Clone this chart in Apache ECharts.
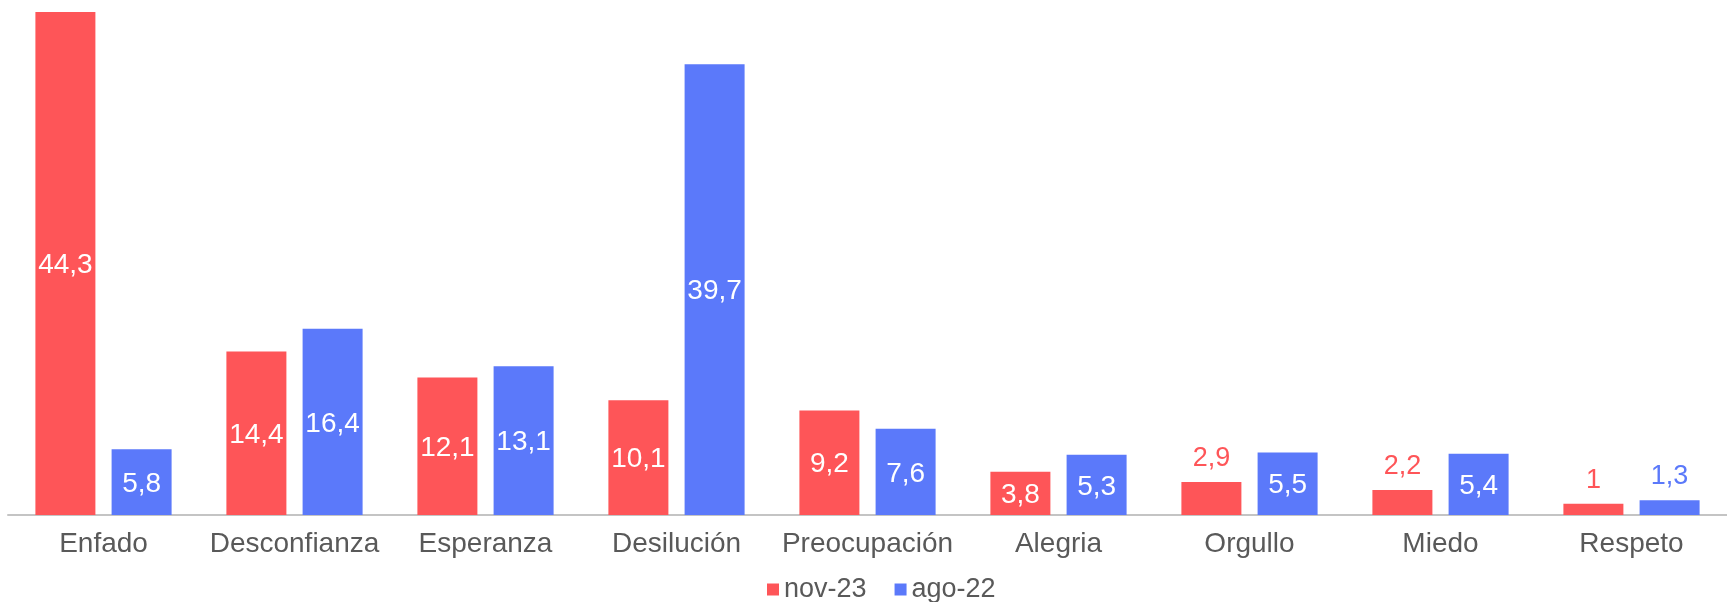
<!DOCTYPE html>
<html>
<head>
<meta charset="utf-8">
<script src="https://cdn.jsdelivr.net/npm/echarts@6/dist/echarts.min.js"></script>
<style>
html,body{margin:0;padding:0;background:#fff;}
#chart{width:1727px;height:602px;}
</style>
</head>
<body>
<div id="chart"></div>
<script>
const categories = ['Enfado','Desconfianza','Esperanza','Desilución','Preocupación','Alegria','Orgullo','Miedo','Respeto'];
const seriesNames = ['nov-23','ago-22'];
const nov23 = [44.3, 14.4, 12.1, 10.1, 9.2, 3.8, 2.9, 2.2, 1];
const ago22 = [5.8, 16.4, 13.1, 39.7, 7.6, 5.3, 5.5, 5.4, 1.3];

const RED = '#FE5558';
const BLUE = '#5B79FA';
const FONT = '"Liberation Sans", Arial, Helvetica, sans-serif';
const THRESH = 3.5;

function fmt(v){ return String(v).replace('.', ','); }
function buildData(arr, color){
  return arr.map(v => {
    const inside = v >= THRESH;
    return {
      value: v,
      label: inside
        ? {show:true, position:'inside', offset:[0,2], color:'#fff', fontSize:28, fontFamily:FONT, formatter: p => fmt(p.value)}
        : {show:true, position:'top', distance:10, color:color, fontSize:27, fontFamily:FONT, formatter: p => fmt(p.value)}
    };
  });
}

const chart = echarts.init(document.getElementById('chart'), null, {renderer:'canvas'});
chart.setOption({
  animation:false,
  backgroundColor:'#ffffff',
  textStyle:{fontFamily:FONT},
  grid:{left:8, right:0, top:12, bottom:87, containLabel:false},
  legend:{
    data:seriesNames,
    top:571,
    left:762,
    itemWidth:12, itemHeight:12, itemGap:28,
    icon:'rect',
    textStyle:{color:'#595959', fontSize:27, fontFamily:FONT}
  },
  xAxis:{
    type:'category',
    data:categories,
    axisLine:{show:true, lineStyle:{color:'#c4c4c4', width:2}},
    axisTick:{show:false},
    axisLabel:{color:'#595959', fontSize:28, fontFamily:FONT, margin:15, interval:0}
  },
  yAxis:{
    type:'value', min:0, max:44.3,
    show:false,
    splitLine:{show:false}
  },
  series:[
    {name:seriesNames[0], type:'bar', data:buildData(nov23, RED), barWidth:60, barGap:'27%',
     itemStyle:{color:RED}},
    {name:seriesNames[1], type:'bar', data:buildData(ago22, BLUE), barWidth:60, barGap:'27%',
     itemStyle:{color:BLUE}}
  ]
});
</script>
</body>
</html>
